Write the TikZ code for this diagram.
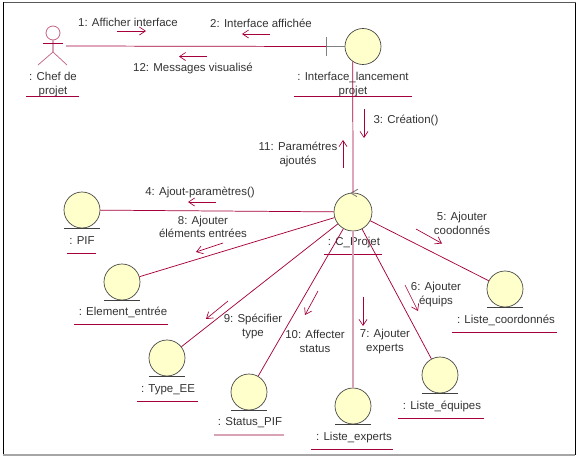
\documentclass[tikz,border=0pt]{standalone}
\usepackage{fontspec}
\setmainfont{Liberation Sans}
\usepackage{xcolor}
\usetikzlibrary{arrows.meta}
\definecolor{linkred}{HTML}{A5003C}
\definecolor{linkpale}{HTML}{D9A3B6}
\definecolor{objfill}{HTML}{FFFFCC}

\begin{document}
\begin{tikzpicture}[
  x=0.75pt, y=-0.75pt,
  lbl/.style={font=\fontsize{8.6pt}{10.2pt}\selectfont, text=black!80, align=center, inner sep=0pt},
  objcircle/.style={circle, draw=black!75, fill=objfill, line width=0.5pt, inner sep=0pt, minimum size=27pt},
  entity/.style={objcircle, append after command={
    ([xshift=-13.5pt]\tikzlastnode.south) edge[draw=black!75, line width=0.6pt] ([xshift=13.5pt]\tikzlastnode.south)}},
  link/.style={draw=linkred, line width=0.55pt},
  palelink/.style={draw=linkpale, line width=1.4pt},
  uline/.style={draw=linkred, line width=0.6pt},
  msg/.style={draw=linkred, line width=0.5pt, -{Straight Barb[length=4.5pt,width=6pt]}},
  graymark/.style={draw=black!50, line width=0.7pt},
]
\useasboundingbox (0,0) rectangle (579,457);

% Frame
\draw[black, line width=0.75pt] (3.5,2) -- (3.5,455);
\draw[black, line width=0.75pt] (575.5,2) -- (575.5,455);
\draw[black!65, line width=0.75pt] (3.5,2) -- (575.5,2);
\draw[black!35, line width=1.5pt] (3,455) -- (575,455);

% Actor on the left
\node[circle, draw=linkpale!60!linkred, line width=0.6pt, inner sep=0pt, minimum size=10.5pt] (chef) at (53,33) {};
\coordinate (chefhip) at (53,52);
\coordinate (chefend) at (66,46);
\draw[palelink] (chef.south) -- (chefhip);
\draw[link] (43,43) -- (63,43);
\draw[link, draw=linkpale!60!linkred] (38,65) -- (chefhip) -- (67,65);
\node[lbl] (chefname) at (53,84.5) {: Chef de\\projet};
\draw[uline] (26,96) -- (79,96);

% Boundary object
\node[objcircle] (ifc) at (363,46.5) {};
\coordinate (ifcbar) at (326,46.5);
\draw[graymark] (ifcbar) -- (ifc);
\draw[graymark] (326,37) -- (326,56);
\node[lbl] (ifcname) at (353,84.5) {: Interface\_lancement\\projet};
\draw[uline] (294,96.5) -- (412,96.5);

% Control object
\node[objcircle, minimum size=28.5pt] (cp) at (353,212) {};
\draw[graymark] ([shift={(5,-3.5)}]cp.north) -- ([shift={(-2,0.5)}]cp.north) -- ([shift={(4,4)}]cp.north);
\node[lbl] (cpname) at (354,242.5) {: C\_Projet};
\draw[uline] (324,254) -- (382,254);

% Entities
\node[entity] (pif) at (82,210) {};
\node[lbl] (pifname) at (82,241) {: PIF};
\draw[uline] (67,253.5) -- (96,253.5);

\node[entity] (elem) at (122,282) {};
\node[lbl] (elemname) at (123,312.5) {: Element\_entrée};
\draw[uline] (74,324.5) -- (168,324.5);

\node[entity] (typee) at (167,358) {};
\node[lbl] (typeename) at (168,389.5) {: Type\_EE};
\draw[uline] (137,401) -- (198,401);

\node[entity] (status) at (249,392) {};
\node[lbl] (statusname) at (250,423) {: Status\_PIF};
\draw[draw=linkpale, line width=1.1pt] (214,435) -- (284,435);

\node[entity] (expert) at (353,406) {};
\node[lbl] (expertname) at (354,437.5) {: Liste\_experts};
\draw[uline] (311,449) -- (393,449);

\node[entity] (equipe) at (440,375) {};
\node[lbl] (equipename) at (442,406.5) {: Liste\_équipes};
\draw[uline] (398,418) -- (484,418);

\node[entity] (coord) at (505,289) {};
\node[lbl] (coordname) at (506,320) {: Liste\_coordonnés};
\draw[uline] (452,332) -- (557,332);

% Links
\draw[link] (chefend) -- (ifcbar);
\draw[link] (ifc.236) -- (cp.north);
\draw[link] (cp) -- (pif);
\draw[link] (cp) -- (elem);
\draw[link] (cp) -- (typee);
\draw[link] (cp) -- (status);
\draw[palelink] (cp) -- (expert);
\draw[link] (cp) -- (equipe);
\draw[link] (cp) -- (coord);

% Messages
\coordinate (m1a) at (117,31);   \coordinate (m1b) at (146,31);
\coordinate (m2a) at (270,34);   \coordinate (m2b) at (242,34);
\coordinate (m12a) at (207,56.5); \coordinate (m12b) at (179,56.5);
\coordinate (m3a) at (364,109);  \coordinate (m3b) at (364,138);
\coordinate (m11a) at (343,168); \coordinate (m11b) at (343,140);
\coordinate (m4a) at (216,202);  \coordinate (m4b) at (188,202);
\coordinate (m8a) at (223,243);  \coordinate (m8b) at (196,252);
\coordinate (m5a) at (416,229);  \coordinate (m5b) at (442,243.5);
\coordinate (m6a) at (405,285);  \coordinate (m6b) at (418,311);
\coordinate (m7a) at (363,297);  \coordinate (m7b) at (363,326);
\coordinate (m10a) at (318,291); \coordinate (m10b) at (305,315);
\coordinate (m9a) at (228,301);  \coordinate (m9b) at (206,319);
\draw[msg] (m1a) -- (m1b);
\draw[msg] (m2a) -- (m2b);
\draw[msg] (m12a) -- (m12b);
\draw[msg] (m3a) -- (m3b);
\draw[msg] (m11a) -- (m11b);
\draw[msg] (m4a) -- (m4b);
\draw[msg] (m8a) -- (m8b);
\draw[msg] (m5a) -- (m5b);
\draw[msg] (m6a) -- (m6b);
\draw[msg] (m7a) -- (m7b);
\draw[msg] (m10a) -- (m10b);
\draw[msg] (m9a) -- (m9b);

% Message labels
\node[lbl] (t1) at (128,22.5) {1: Afficher interface};
\node[lbl] (t2) at (261,23.5) {2: Interface affichée};
\node[lbl] (t12) at (193,68) {12: Messages visualisé};
\node[lbl] (t3) at (406,120.5) {3: Création()};
\node[lbl] (t11) at (298,154.5) {11: Paramétres\\ajoutés};
\node[lbl] (t4) at (200,192.5) {4: Ajout-paramètres()};
\node[lbl] (t8) at (203,227) {8: Ajouter\\éléments entrées};
\node[lbl] (t5) at (462,223.5) {5: Ajouter\\coodonnés};
\node[lbl] (t6) at (436,294.5) {6: Ajouter\\équips};
\node[lbl] (t7) at (385,341.5) {7: Ajouter\\experts};
\node[lbl] (t10) at (315,341.5) {10: Affecter\\status};
\node[lbl] (t9) at (253,326.5) {9: Spécifier\\type};

\end{tikzpicture}
\end{document}
